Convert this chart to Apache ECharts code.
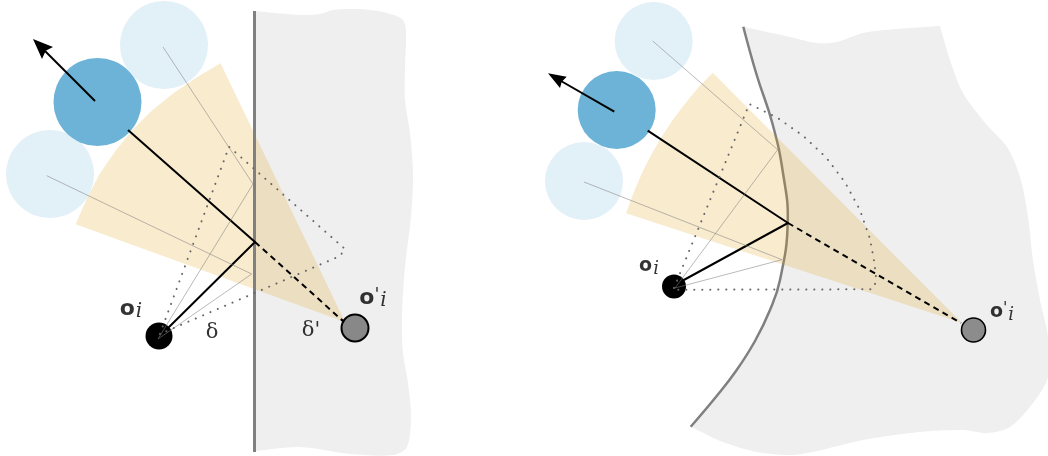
<!DOCTYPE html>
<html><head><meta charset="utf-8">
<style>html,body{margin:0;padding:0;background:#fff}#c{width:1048px;height:456px}</style>
<script src="https://cdn.jsdelivr.net/npm/echarts@6/dist/echarts.min.js"></script>
</head><body><div id="c"></div>
<script>
// ---- data (x, y in picture units) ----
const leftRegion = [[255,11],[255,11],[300,15],[320,14],[333,10],[357,9],[383,12],[402,19],[406,30],[405,67],[405,100],[410,133],[413,173],[411,217],[405,267],[402,317],[403,353],[408,383],[411,417],[407,447],[393,455],[350,454],[300,447],[255,451],[255,451]];
const rightRegion = [[743.3,26.7],[743.3,26.7],[790,37],[817,43],[837,42],[863,33],[897,29],[940,26],[940,26],[950,60],[963,93],[987,125],[1007,147],[1020,177],[1028,217],[1033,260],[1040,300],[1048,337],[1048,377],[1033,403],[1010,427],[987,433],[963,430],[920,432],[863,440],[813,452],[790,455],[757,452],[723,442],[690.7,426.7],[690.7,426.7],[716.7,396],[736.7,370],[755,341],[770,310],[780,280],[787.7,223],[783,173],[772.3,123],[756.7,75]];
const leftSector = [[345,322],[220.5,63.3],[197,77.2],[174,92.8],[152.3,110.2],[132.6,129.8],[115.2,151.2],[99.7,173.8],[86.7,198.8],[75.7,224.3]];
const rightSector = [[961.7,322.7],[712.7,72.7],[698.3,87.5],[685,103.7],[672.5,120.3],[661,137.7],[650.7,155.8],[641.3,174.5],[633.2,193.7],[626,213.3]];
const leftWall = [[254.5,11],[254.5,452]];
const rightWall = [[743.3,26.7],[756.7,75],[772.3,123],[783,173],[787.7,223],[780,280],[770,310],[755,341],[736.7,370],[716.7,396],[690.7,426.7]];
const leftLightCircles = [[164,45],[50,174]];
const rightLightCircles = [[653.7,41],[584,181]];
const leftBlue = [[97.5,102]];
const rightBlue = [[616.7,110]];
const leftSource = [[159,336]];
const rightSource = [[674,286.5]];
const leftImage = [[355,328]];
const rightImage = [[973.5,330]];
const thinPaths = [
  [[46.7,175.7],[251.7,274],[158,339]],
  [[163,47],[253,184],[158,339]],
  [[584,182],[782,259.7],[675,288]],
  [[652.7,41],[777.7,149.7],[675,288]]
];
const leftDotted = [[160,334],[229,146.7],[345,249],[340,256],[160,334]];
const rightDotted = [[674,288],[749.3,104],[777.3,117.7],[803,135.7],[826,157.3],[845,182.3],[860,210],[870,239],[874.3,262.3],[876,276.7],[875.5,283],[872.3,289.3],[674,289.7]];
const solidPaths = [
  [[128,130],[255,242],[163,333]],
  [[647.7,130.7],[788,223],[682,281]],
  [[95,101],[45,51]],
  [[614.3,111.7],[561,81]],
  [[341,319],[344,322]]
];
const dashedPaths = [
  [[255,242],[343,321]],
  [[788,223],[961,323]]
];
const arrowHeads = [
  [[33,39],[42,59],[45.7,50.7],[53,47]],
  [[548,73.3],[560,88],[561.7,81.7],[566.7,76.7]]
];
const textLabels = [
  {value:[131,309], text:'{o|o}{i|i}'},
  {value:[373,298], text:'{o|o}{p|\'}{i|i}'},
  {value:[649,266], text:'{os|o}{is|i}'},
  {value:[1002,312], text:'{os|o}{ps|\'}{is|i}'},
  {value:[212,333], text:'{d|δ}'},
  {value:[311,331], text:'{d|δ\'}'}
];

// ---- builders ----
const polygon = (pts, color, opacity, smooth) => ({
  type:'custom', coordinateSystem:'cartesian2d', silent:true, clip:false,
  data: pts, encode:{x:0,y:1},
  renderItem:(params, api) => {
    if (params.dataIndex !== 0) return null;
    return {type:'polygon', shape:{points:pts.map(p=>api.coord(p)), smooth:smooth||0},
      style:{fill:color, opacity:opacity==null?1:opacity}};
  }
});
const curve = (pts, color, width, smooth) => ({
  type:'custom', coordinateSystem:'cartesian2d', silent:true, clip:false,
  data: pts, encode:{x:0,y:1},
  renderItem:(params, api) => {
    if (params.dataIndex !== 0) return null;
    return {type:'polyline', shape:{points:pts.map(p=>api.coord(p)), smooth:smooth},
      style:{fill:null, stroke:color, lineWidth:width}};
  }
});
const line = (pts, color, width, type, cap) => ({
  type:'line', data:pts, symbol:'none', silent:true, clip:false,
  lineStyle:{color, width, type:type||'solid', cap:cap||'butt', join:'round'}
});
const dots = (pts, size, color, border, bw) => ({
  type:'scatter', data:pts, symbol:'circle', symbolSize:size, silent:true, clip:false,
  itemStyle:{color, opacity:1, borderColor:border||color, borderWidth:bw||0}
});
const rich = {
  o:{fontFamily:'DejaVu Sans',fontWeight:'bold',fontSize:22,color:'#000'},
  i:{fontFamily:'DejaVu Serif',fontStyle:'italic',fontSize:20,color:'#000',padding:[6,0,0,1]},
  p:{fontFamily:'DejaVu Sans',fontSize:18,color:'#000',padding:[0,0,6,0]},
  os:{fontFamily:'DejaVu Sans',fontWeight:'bold',fontSize:19,color:'#000'},
  is:{fontFamily:'DejaVu Serif',fontStyle:'italic',fontSize:18,color:'#000',padding:[6,0,0,1]},
  ps:{fontFamily:'DejaVu Sans',fontSize:16,color:'#000',padding:[0,0,6,0]},
  d:{fontFamily:'DejaVu Serif',fontSize:21,color:'#000'}
};

const THIN='rgba(130,130,130,0.55)';
const series = [
  polygon(leftRegion,'#efefef',1,0.3),
  polygon(rightRegion,'#efefef',1,0.3),
  dots(leftLightCircles,88,'#e2f0f8'),
  dots(rightLightCircles,78,'#e2f0f8'),
  line(leftWall,'#808080',3),
  curve(rightWall,'#808080',2.5,0.45),
  polygon(leftSector,'rgb(220,155,10)',0.2),
  polygon(rightSector,'rgb(220,155,10)',0.2),
  dots(leftBlue,88,'#6db3d7'),
  dots(rightBlue,78,'#6db3d7'),
  dots(leftSource,27,'#000'),
  dots(rightSource,24,'#000'),
  ...solidPaths.map(p=>line(p,'#000',2)),
  ...dashedPaths.map(p=>line(p,'#000',2,[6,4.5])),
  ...arrowHeads.map(p=>polygon(p,'#000')),
  dots(leftImage,27,'#888','#000',2),
  dots(rightImage,24,'#8c8c8c','#000',1.6),
  ...thinPaths.map(p=>line(p,THIN,1)),
  line(leftDotted,'#666',2,[0.1,7.9],'round'),
  line(rightDotted,'#666',2,[0.1,7.9],'round'),
  {type:'scatter', silent:true, clip:false, symbolSize:1, itemStyle:{color:'transparent'},
   data:textLabels.map(t=>({value:t.value, label:{formatter:t.text}})),
   label:{show:true, position:'inside', rich, color:'#000', fontSize:20}, labelLayout:{hideOverlap:false}}
];

const chart = echarts.init(document.getElementById('c'),null,{renderer:'canvas'});
chart.setOption({
  animation:false, backgroundColor:'#fff',
  grid:{left:0,right:0,top:0,bottom:0},
  xAxis:{type:'value',min:0,max:1048,show:false},
  yAxis:{type:'value',min:0,max:456,inverse:true,show:false},
  series
});
</script></body></html>
